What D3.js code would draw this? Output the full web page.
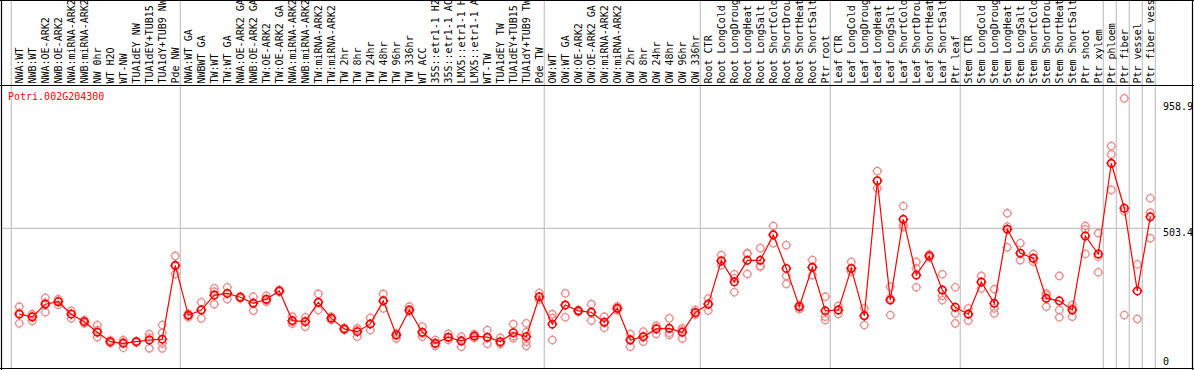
<!DOCTYPE html>
<html>
<head>
<meta charset="utf-8">
<script src="https://cdnjs.cloudflare.com/ajax/libs/d3/7.8.5/d3.min.js"></script>
<style>
  html, body { margin: 0; padding: 0; background: #fff; }
  svg { display: block; }
  text { font-family: 'DejaVu Sans Mono', monospace; font-size: 10px; }
</style>
</head>
<body>
<svg id="chart" width="1194" height="370"></svg>
<script>
const geneName = 'Potri.002G204300';

const sampleLabels = [
  'NWA:WT', 'NWB:WT', 'NWA:OE-ARK2', 'NWB:OE-ARK2', 'NWA:miRNA-ARK2', 'NWB:miRNA-ARK2',
  'NW 0hr', 'WT H2O', 'WT-NW', 'TUA1dEY NW', 'TUA1dEY+TUB15 NW', 'TUA1dY+TUB9 NW', 'Pde NW',
  'NWA:WT GA', 'NWBWT GA', 'TW:WT', 'TW:WT GA', 'NWA:OE-ARK2 GA', 'NWB:OE-ARK2 GA',
  'TW:OE-ARK2', 'TW:OE-ARK2 GA', 'NWA:miRNA-ARK2', 'NWB:miRNA-ARK2', 'TW:miRNA-ARK2',
  'TW:miRNA-ARK2', 'TW 2hr', 'TW 8hr', 'TW 24hr', 'TW 48hr', 'TW 96hr', 'TW 336hr', 'WT ACC',
  '35S::etr1-1 H2O', '35S::etr1-1 ACC', 'LMX5::etr1-1 H2O', 'LMX5::etr1-1 ACC', 'WT-TW',
  'TUA1dEY TW', 'TUA1dEY+TUB15 TW', 'TUA1dY+TUB9 TW', 'Pde TW',
  'OW:WT', 'OW:WT GA', 'OW:OE-ARK2', 'OW:OE-ARK2 GA', 'OW:miRNA-ARK2', 'OW:miRNA-ARK2',
  'OW 2hr', 'OW 8hr', 'OW 24hr', 'OW 48hr', 'OW 96hr', 'OW 336hr',
  'Root CTR', 'Root LongCold', 'Root LongDrought', 'Root LongHeat', 'Root LongSalt',
  'Root ShortCold', 'Root ShortDrought', 'Root ShortHeat', 'Root ShortSalt', 'Ptr root',
  'Leaf CTR', 'Leaf LongCold', 'Leaf LongDrought', 'Leaf LongHeat', 'Leaf LongSalt',
  'Leaf ShortCold', 'Leaf ShortDrought', 'Leaf ShortHeat', 'Leaf ShortSalt', 'Ptr leaf',
  'Stem CTR', 'Stem LongCold', 'Stem LongDrought', 'Stem LongHeat', 'Stem LongSalt',
  'Stem ShortCold', 'Stem ShortDrought', 'Stem ShortHeat', 'Stem ShortSalt', 'Ptr shoot',
  'Ptr xylem', 'Ptr phloem', 'Ptr fiber', 'Ptr vessel', 'Ptr fiber vessel'
];

// index of the first sample of each group (last entry closes the final group)
const groupStarts = [0, 13, 41, 53, 63, 73, 84, 85, 86, 87, 88];

const meanValues = [
  194, 184, 230, 239, 194, 167, 129, 95, 89, 95, 101, 104, 370,
  190, 209, 263, 269, 255, 233, 248, 278, 171, 167, 237, 179, 141, 131, 159, 242, 119,
  209, 129, 89, 111, 97, 115, 111, 95, 127, 113, 257,
  158, 227, 206, 201, 165, 215, 101, 113, 141, 143, 129, 200,
  230, 387, 311, 388, 388, 480, 359, 221, 363, 206,
  209, 359, 188, 675, 245, 536, 335, 404, 281, 219,
  194, 310, 233, 500, 414, 396, 251, 242, 209, 476, 411,
  738, 576, 278, 545
];

const replicateValues = [
  [221, 199, 161], [194, 188, 170], [253, 235, 201], [248, 241, 228], [206, 196, 179],
  [173, 167, 161], [155, 137, 111], [100, 94, 90], [101, 93, 73], [97, 95, 92],
  [122, 110, 71], [155, 127, 89, 71], [404, 367, 339],
  [196, 190, 183], [237, 211, 179], [287, 275, 230], [291, 269, 248], [258, 255, 251],
  [257, 236, 207], [260, 244, 239], [282, 276, 274], [185, 168, 160], [183, 169, 149],
  [267, 235, 209], [185, 179, 173], [145, 140, 137], [143, 137, 113], [181, 158, 137],
  [267, 243, 215], [125, 119, 107], [221, 209, 203], [149, 125, 113], [101, 89, 80],
  [123, 109, 101], [113, 101, 77], [122, 115, 108], [137, 108, 87], [109, 89, 87],
  [158, 115, 107], [161, 129, 95, 80], [271, 255, 246],
  [194, 180, 101], [269, 227, 183], [209, 205, 202], [230, 200, 171], [185, 164, 145],
  [222, 215, 208], [122, 104, 77], [131, 113, 95], [153, 146, 123], [179, 127, 119],
  [143, 136, 107], [209, 197, 192],
  [250, 232, 207], [407, 383, 371], [338, 323, 273], [414, 412, 339], [432, 368, 365],
  [512, 480, 450], [443, 332, 303], [227, 224, 212], [389, 363, 335], [257, 185, 173],
  [224, 209, 195], [383, 359, 347], [215, 190, 155], [710, 675, 648], [293, 251, 191],
  [584, 516, 508], [383, 359, 291], [410, 404, 398], [338, 260, 245], [291, 197, 161],
  [215, 196, 171], [332, 310, 287], [284, 215, 197], [558, 510, 435], [450, 413, 389],
  [411, 395, 383], [269, 263, 221], [332, 209, 183], [227, 215, 185], [512, 500, 411],
  [486, 401, 345],
  [800, 770, 642], [972, 565, 191], [374, 177], [612, 560, 468]
];

const gridValues = [503.4];
const tickValues = [958.9, 503.4, 0];

const width = 1194;
const height = 370;
const labelBottom = 85.5;
const plotBottom = 368.5;
const plotLeft = 11.3;
const plotRight = 1155.3;

const svg = d3.select('#chart');

const x = d3.scaleBand()
  .domain(d3.range(sampleLabels.length))
  .range([plotLeft, plotRight])
  .paddingInner(0)
  .paddingOuter(0);

const px = (i) => x(i) + 8;

const y = d3.scaleLinear()
  .domain([0, 958.9])
  .range([368, 102]);

// group separators
svg.append('g')
  .selectAll('line')
  .data(groupStarts)
  .join('line')
  .attr('x1', (d) => x(d) !== undefined ? x(d) : plotRight)
  .attr('x2', (d) => x(d) !== undefined ? x(d) : plotRight)
  .attr('y1', 0)
  .attr('y2', plotBottom)
  .attr('stroke', '#c4c4c4')
  .attr('stroke-width', 1.2);

// horizontal grid
svg.append('g')
  .selectAll('line')
  .data(gridValues)
  .join('line')
  .attr('x1', 1)
  .attr('x2', 1161)
  .attr('y1', (d) => y(d))
  .attr('y2', (d) => y(d))
  .attr('stroke', '#c4c4c4')
  .attr('stroke-width', 1.2);

// frame
const frame = svg.append('g')
  .attr('stroke', '#000')
  .attr('stroke-width', 1.2);
frame.append('line').attr('x1', 1.5).attr('x2', 1.5).attr('y1', 0).attr('y2', height);
frame.append('line').attr('x1', width - 1.5).attr('x2', width - 1.5).attr('y1', 0).attr('y2', height);
frame.append('line').attr('x1', 0).attr('x2', width).attr('y1', 0.5).attr('y2', 0.5);
frame.append('line').attr('x1', 0).attr('x2', width).attr('y1', labelBottom).attr('y2', labelBottom);
frame.append('line').attr('x1', 0).attr('x2', width).attr('y1', plotBottom).attr('y2', plotBottom);

// sample labels, rotated
svg.append('g')
  .selectAll('text')
  .data(sampleLabels)
  .join('text')
  .attr('transform', (d, i) => `translate(${px(i) + 3.5},${labelBottom - 2}) rotate(-90)`)
  .attr('fill', '#000')
  .text((d) => d);

// gene title
svg.append('text')
  .attr('x', 8)
  .attr('y', 100)
  .attr('fill', '#ff0000')
  .text(geneName);

// right tick labels
svg.append('g')
  .selectAll('text')
  .data(tickValues)
  .join('text')
  .attr('x', 1163)
  .attr('y', (d) => d === 0 ? 365 : y(d) + 8)
  .attr('fill', '#000')
  .text((d) => d === 0 ? '0' : d.toFixed(1));

const marker = 'M0,-5V-3.5M0,3.5V5M-5,0H-3.5M3.5,0H5';

// replicate points
const reps = [];
replicateValues.forEach((vals, i) => {
  vals.forEach((v) => reps.push({ i, v }));
});

const repG = svg.append('g')
  .selectAll('g')
  .data(reps)
  .join('g')
  .attr('transform', (d) => `translate(${px(d.i)},${y(d.v)})`)
  .attr('stroke', '#ee8f8f')
  .attr('fill', 'none');
repG.append('circle').attr('r', 3.7).attr('stroke-width', 1.3);
repG.append('path').attr('d', marker).attr('stroke-width', 1);

// mean line
const line = d3.line()
  .x((d, i) => px(i))
  .y((d) => y(d));

svg.append('path')
  .datum(meanValues)
  .attr('d', line)
  .attr('fill', 'none')
  .attr('stroke', '#ff0000')
  .attr('stroke-width', 1.2);

// mean points
const meanG = svg.append('g')
  .selectAll('g')
  .data(meanValues)
  .join('g')
  .attr('transform', (d, i) => `translate(${px(i)},${y(d)})`)
  .attr('stroke', '#ff0000')
  .attr('fill', 'none');
meanG.append('circle').attr('r', 3.7).attr('stroke-width', 1.6);
meanG.append('path').attr('d', marker).attr('stroke-width', 1.2);
</script>
</body>
</html>
